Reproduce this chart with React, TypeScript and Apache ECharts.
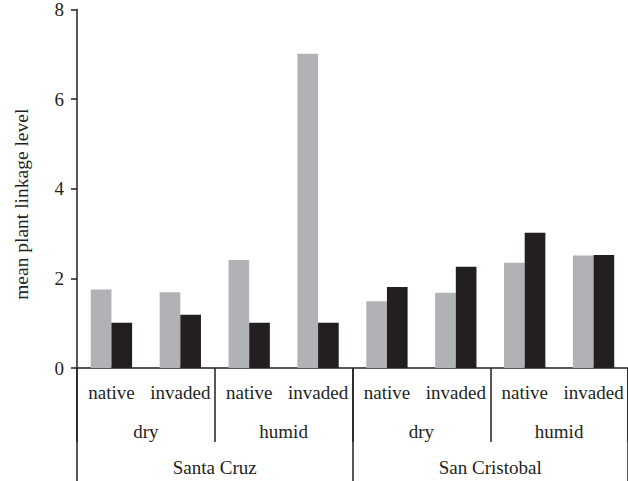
import React, { useEffect, useRef } from "react";
import * as echarts from "echarts";

const habitats = ["native", "invaded", "native", "invaded", "native", "invaded", "native", "invaded"];
const zones = ["dry", "humid", "dry", "humid"];
const islands = ["Santa Cruz", "San Cristobal"];
const grayValues = [1.75, 1.69, 2.41, 7.01, 1.49, 1.68, 2.35, 2.51];
const blackValues = [1.01, 1.19, 1.01, 1.01, 1.81, 2.26, 3.02, 2.52];
const yTicks = { min: 0, max: 8, interval: 2 };

const FONT = "'Liberation Serif', 'DejaVu Serif', serif";
const INK = "#231f20";
const GRAY = "#b1b2b5";

export default function App() {
  const ref = useRef<HTMLDivElement>(null);
  useEffect(() => {
    if (!ref.current) return;
    const chart = echarts.init(ref.current, null, { renderer: "svg" });
    const lineStyle = { color: INK, width: 1.5 };
    chart.setOption({
      animation: false,
      grid: { left: 77, right: -1, top: 9, bottom: 113 },
      xAxis: [
        {
          type: "category",
          data: habitats,
          position: "bottom",
          axisLine: { show: true, lineStyle },
          axisTick: { show: false },
          axisLabel: { margin: 15, fontFamily: FONT, fontSize: 19, color: INK, interval: 0 },
        },
        {
          type: "category",
          data: zones,
          position: "bottom",
          axisLine: { show: false },
          axisTick: { show: true, length: 74, lineStyle },
          axisLabel: { margin: 54, fontFamily: FONT, fontSize: 19, color: INK, interval: 0 },
        },
        {
          type: "category",
          data: islands,
          position: "bottom",
          axisLine: { show: false },
          axisTick: { show: true, length: 120, lineStyle },
          axisLabel: { margin: 90, fontFamily: FONT, fontSize: 19, color: INK, interval: 0 },
        },
      ],
      yAxis: {
        type: "value",
        min: yTicks.min,
        max: yTicks.max,
        interval: yTicks.interval,
        name: "mean plant linkage level",
        nameLocation: "middle",
        nameGap: 46,
        nameTextStyle: { fontFamily: FONT, fontSize: 19.5, color: INK, padding: [0, 31, 0, 0] },
        axisLine: { show: true, lineStyle },
        axisTick: { show: true, length: 6, lineStyle },
        axisLabel: { margin: 13, fontFamily: FONT, fontSize: 19, color: INK },
        splitLine: { show: false },
      },
      series: [
        {
          type: "bar",
          data: grayValues,
          itemStyle: { color: GRAY },
          barGap: "0%",
          barCategoryGap: "40%",
        },
        {
          type: "bar",
          data: blackValues,
          itemStyle: { color: INK },
          barGap: "0%",
          barCategoryGap: "40%",
        },
      ],
    });
    return () => chart.dispose();
  }, []);
  return <div ref={ref} style={{ width: 628, height: 481, position: "absolute", left: 0, top: 0 }} />;
}
